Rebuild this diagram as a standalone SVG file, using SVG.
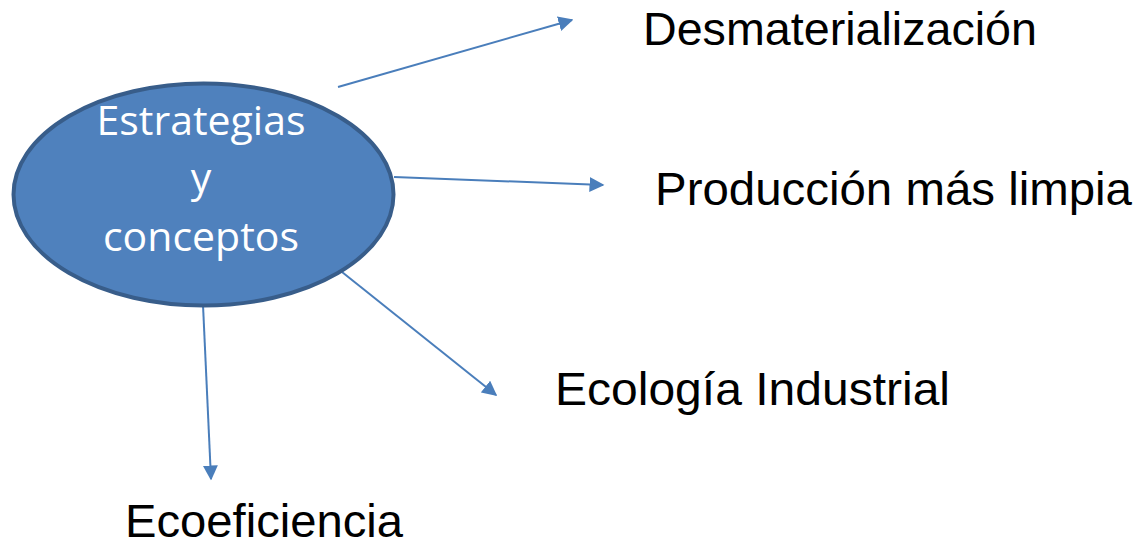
<svg xmlns="http://www.w3.org/2000/svg" width="1143" height="551" viewBox="0 0 1143 551">
<style>
.lbl{font-family:"Liberation Sans",Arial,sans-serif;font-size:47px;fill:#000}
.in{font-family:"Open Sans","Liberation Sans",sans-serif;font-size:41px;fill:#fff;text-anchor:middle}
.con{stroke:#4A7EBB;stroke-width:2;fill:none;marker-end:url(#ah)}
</style>
<defs>
<marker id="ah" viewBox="0 0 10 10" refX="9" refY="5" markerWidth="7.5" markerHeight="7.5" markerUnits="strokeWidth" orient="auto">
<path d="M0,0 L10,5 L0,10 z" fill="#4A7EBB"/>
</marker>
</defs>
<rect width="1143" height="551" fill="#fff"/>
<g id="connectors">
<line class="con" x1="338" y1="87" x2="572" y2="20"/>
<line class="con" x1="394" y1="177" x2="603" y2="185"/>
<line class="con" x1="337" y1="268" x2="496" y2="395"/>
<line class="con" x1="203" y1="305" x2="211" y2="479"/>
</g>
<g id="center">
<ellipse cx="203.5" cy="194.5" rx="190" ry="111" fill="#4F81BD" stroke="#385D8A" stroke-width="4"/>
<text class="in" x="201" y="135">Estrategias</text>
<text class="in" x="201" y="192">y</text>
<text class="in" x="201" y="251">conceptos</text>
</g>
<g id="n1"><text class="lbl" x="643" y="45" textLength="394" lengthAdjust="spacingAndGlyphs">Desmaterialización</text></g>
<g id="n2"><text class="lbl" x="655" y="205" textLength="477" lengthAdjust="spacingAndGlyphs">Producción más limpia</text></g>
<g id="n3"><text class="lbl" x="555" y="405" textLength="395" lengthAdjust="spacingAndGlyphs">Ecología Industrial</text></g>
<g id="n4"><text class="lbl" x="125" y="537" textLength="278" lengthAdjust="spacingAndGlyphs">Ecoeficiencia</text></g>
</svg>
